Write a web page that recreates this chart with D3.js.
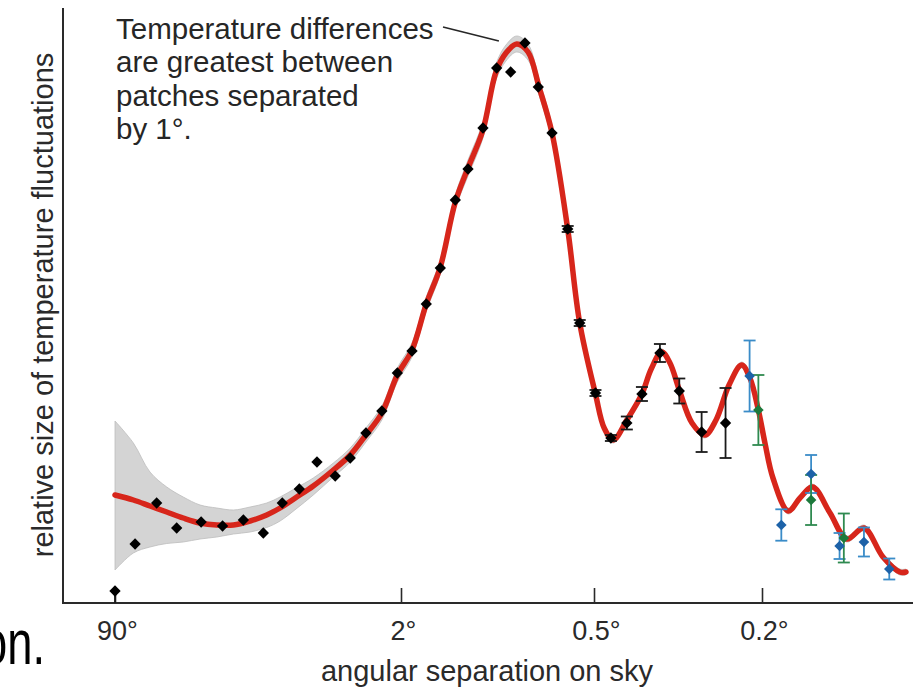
<!DOCTYPE html>
<html>
<head>
<meta charset="utf-8">
<script src="https://cdn.jsdelivr.net/npm/d3@7"></script>
<style>
  html, body { margin: 0; padding: 0; background: #ffffff; }
  svg { display: block; }
  text { font-family: "Liberation Sans", Arial, Helvetica, sans-serif; }
</style>
</head>
<body>
<svg id="chart" width="913" height="689"></svg>
<script>
// ---- tick labels (angular separation, degrees) ----
const tickAngles = [90, 2, 0.5, 0.2];

// ---- theoretical model curve (angle in degrees, relative amplitude) ----
const curveTheta = [90, 70.5, 56.5, 45.2, 36.3, 29.0, 23.2, 18.6, 14.9, 11.95, 10.0, 8.09, 6.43, 4.92, 3.93, 3.19, 2.58, 2.10,
  1.848, 1.668, 1.508, 1.354, 1.236, 1.110, 1.011, 0.941, 0.871, 0.803, 0.742, 0.676, 0.604, 0.554,
  0.496, 0.473, 0.450, 0.418, 0.385, 0.366, 0.3457, 0.3304, 0.314, 0.293, 0.273, 0.257, 0.2394, 0.2235, 0.2136,
  0.204, 0.1968, 0.1884, 0.1733, 0.1626, 0.1517, 0.138, 0.126, 0.1147, 0.1034, 0.0943, 0.0912];
const curveValue = [108, 103, 97, 91, 85, 80, 78, 78, 82, 88, 95, 105.5, 117, 133, 148, 168, 190, 228,
  253, 299, 336, 401, 435, 473, 531, 550, 559, 551, 516, 470, 374, 280,
  209, 175, 163, 183, 209, 234, 251, 240, 213, 180, 168, 183, 218, 238, 225,
  193, 160, 125, 92, 105, 116, 90, 64, 75, 46, 31, 31];

// ---- grey uncertainty band (upper / lower edge at each curve angle) ----
const bandUpper = [182, 160, 131, 116, 106, 98, 95, 93, 96, 100, 106, 115, 125, 140, 155, 175, 197, 235,
  260, 306, 343, 408, 443, 481, 539, 558, 567, 559, 524, 477, 380, 285,
  212, 178, 166, 186, 212, 237, 254, 243, 216, 183, 171, 186, 221, 241, 228,
  196, 163, 128, 95, 108, 119, 93, 67, 78, 49, 34, 34];
const bandLower = [33, 50, 56, 59.5, 61, 64, 66, 69, 71, 75.5, 82, 94, 108, 126, 141, 161, 183, 221,
  246, 292, 329, 394, 427, 465, 523, 542, 551, 543, 508, 463, 368, 275,
  206, 172, 160, 180, 206, 231, 248, 237, 210, 177, 165, 180, 215, 235, 222,
  190, 157, 122, 89, 102, 113, 87, 61, 72, 43, 28, 28];

// ---- black measurements ----
const wmapTheta = [90, 68.9, 51.7, 39.6, 28.6, 21.5, 16.3, 12.5, 9.71, 7.74, 6.12, 4.80, 3.93, 3.19, 2.58, 2.10,
  1.848, 1.668, 1.508, 1.354, 1.236, 1.110, 1.006, 0.910, 0.821, 0.746, 0.676, 0.604, 0.554,
  0.496, 0.456, 0.418, 0.385, 0.349, 0.314, 0.278, 0.244];
const wmapValue = [12, 59, 100, 75, 81, 77, 83, 70, 100, 114, 141, 127, 145, 170, 192, 230,
  252, 299, 335, 403, 434, 475, 535, 531, 560, 516, 470, 374, 280,
  210, 165, 180, 209, 250, 212, 171, 180];
const wmapErrHigh = [0, 0, 0, 0, 0, 0, 0, 0, 0, 0, 0, 0, 0, 0, 0, 0,
  0, 0, 0, 0, 0, 0, 0, 0, 0, 0, 0, 3, 3,
  3, 3, 6.5, 7, 9, 12.5, 20, 35];
const wmapErrLow = [12, 0, 0, 0, 0, 0, 0, 0, 0, 0, 0, 0, 0, 0, 0, 0,
  0, 0, 0, 0, 0, 0, 0, 0, 0, 0, 0, 3, 3,
  3, 3, 6.5, 7, 9, 12.5, 20, 35];

// ---- blue measurements ----
const blueTheta = [0.214, 0.180, 0.153, 0.131, 0.1147, 0.0999];
const blueValue = [227, 78, 129, 57, 61, 34];
const blueErr = [35.5, 15.7, 19, 13, 14.5, 10.5];

// ---- green measurements ----
const greenTheta = [0.204, 0.153, 0.128];
const greenValue = [193, 103, 65];
const greenErr = [35, 25, 24.5];

// ---- texts ----
const annotationLines = ["Temperature differences", "are greatest between", "patches separated", "by 1°."];
const xTitle = "angular separation on sky";
const yTitle = "relative size of temperature fluctuations";
const cutText = "on.";

// ================= drawing =================
const svg = d3.select("#chart");
const W = 913, H = 689;
const x = d3.scaleLog().domain(tickAngles).range([115, 401, 594, 762]);
const y = d3.scaleLinear().domain([0, 600]).range([603, 3]);
const axisX0 = 63;

// band
const bandData = curveTheta.map((t, i) => ({ t, hi: bandUpper[i], lo: bandLower[i] }));
const band = d3.area()
  .x(d => x(d.t)).y0(d => y(d.lo)).y1(d => y(d.hi))
  .curve(d3.curveCatmullRom.alpha(0.5));
svg.append("path").datum(bandData)
  .attr("d", band)
  .attr("fill", "#d4d4d4")
  .attr("stroke", "#bdbdbd")
  .attr("stroke-width", 0.8);

// model curve
const curveData = curveTheta.map((t, i) => ({ t, v: curveValue[i] }));
const line = d3.line().x(d => x(d.t)).y(d => y(d.v)).curve(d3.curveCatmullRom.alpha(0.5));
svg.append("path").datum(curveData)
  .attr("d", line)
  .attr("fill", "none")
  .attr("stroke", "#d7261b")
  .attr("stroke-width", 5.5)
  .attr("stroke-linecap", "round")
  .attr("stroke-linejoin", "round");

// axes lines
svg.append("line").attr("x1", axisX0).attr("x2", W).attr("y1", y(0)).attr("y2", y(0))
  .attr("stroke", "#2a2a2a").attr("stroke-width", 2);
svg.append("line").attr("x1", axisX0).attr("x2", axisX0).attr("y1", y(0) + 1).attr("y2", 8)
  .attr("stroke", "#2a2a2a").attr("stroke-width", 2);

// x axis ticks and labels
const gx = svg.append("g").attr("transform", `translate(0,${y(0)})`)
  .call(d3.axisBottom(x).tickValues(tickAngles).tickFormat(d => d + "°").tickSize(-15).tickSizeOuter(0));
gx.select(".domain").remove();
gx.selectAll(".tick line").attr("stroke", "#2a2a2a").attr("stroke-width", 1.6);
gx.selectAll(".tick text")
  .attr("y", 37).attr("dy", 0)
  .attr("dx", 2)
  .attr("font-size", 27)
  .attr("fill", "#2a2a2a")
  .style("font-family", "'Liberation Sans', Arial, sans-serif");

// error bars helper
const capW = 12;
function errorBars(theta, value, errLow, errHigh, color, cls) {
  const data = theta.map((t, i) => ({ t, v: value[i], lo: errLow[i], hi: errHigh[i] }))
    .filter(d => d.lo > 0 || d.hi > 0);
  const g = svg.append("g").attr("class", cls);
  g.selectAll("line.bar").data(data).join("line")
    .attr("class", "bar")
    .attr("x1", d => x(d.t)).attr("x2", d => x(d.t))
    .attr("y1", d => y(Math.max(0, d.v - d.lo))).attr("y2", d => y(d.v + d.hi))
    .attr("stroke", color).attr("stroke-width", 1.8);
  const caps = data.filter(d => d.lo > 0 && d.hi > 0);
  g.selectAll("line.capTop").data(caps).join("line")
    .attr("class", "capTop")
    .attr("x1", d => x(d.t) - capW / 2).attr("x2", d => x(d.t) + capW / 2)
    .attr("y1", d => y(d.v + d.hi)).attr("y2", d => y(d.v + d.hi))
    .attr("stroke", color).attr("stroke-width", 1.8);
  g.selectAll("line.capBot").data(caps).join("line")
    .attr("class", "capBot")
    .attr("x1", d => x(d.t) - capW / 2).attr("x2", d => x(d.t) + capW / 2)
    .attr("y1", d => y(d.v - d.lo)).attr("y2", d => y(d.v - d.lo))
    .attr("stroke", color).attr("stroke-width", 1.8);
}
errorBars(wmapTheta, wmapValue, wmapErrLow, wmapErrHigh, "#1a1a1a", "wmapErr");
errorBars(blueTheta, blueValue, blueErr, blueErr, "#3a8cc8", "blueErr");
errorBars(greenTheta, greenValue, greenErr, greenErr, "#2f8a50", "greenErr");

// diamond markers
const diamond = d3.symbol().type(d3.symbolSquare);
function markers(theta, value, color, size) {
  svg.append("g").selectAll("path").data(theta.map((t, i) => ({ t, v: value[i] }))).join("path")
    .attr("d", diamond.size(size)())
    .attr("transform", d => `translate(${x(d.t)},${y(d.v)}) rotate(45)`)
    .attr("fill", color);
}
markers(wmapTheta, wmapValue, "#000000", 64);
markers(blueTheta, blueValue, "#1d62a8", 56);
markers(greenTheta, greenValue, "#1d7a3c", 56);

// annotation
const ann = svg.append("text").attr("x", 116).attr("y", 39)
  .attr("font-size", 29.5).attr("fill", "#262626");
ann.selectAll("tspan").data(annotationLines).join("tspan")
  .attr("x", 116).attr("dy", (d, i) => i === 0 ? 0 : 33.3).text(d => d);
svg.append("line")
  .attr("x1", 443).attr("y1", 27)
  .attr("x2", x(0.99)).attr("y2", y(562))
  .attr("stroke", "#262626").attr("stroke-width", 1.6);

// axis titles
svg.append("text").attr("x", 487).attr("y", 681)
  .attr("text-anchor", "middle").attr("font-size", 29).attr("fill", "#2a2a2a")
  .text(xTitle);
svg.append("text").attr("transform", "translate(53,305) rotate(-90)")
  .attr("text-anchor", "middle").attr("font-size", 29).attr("fill", "#2a2a2a")
  .text(yTitle);

// cut-off text fragment at bottom left (cropped in the original figure)
svg.append("text").attr("transform", "translate(45,664) scale(0.72,1)")
  .attr("text-anchor", "end").attr("font-size", 63).attr("fill", "#000")
  .text(cutText);
</script>
</body>
</html>
